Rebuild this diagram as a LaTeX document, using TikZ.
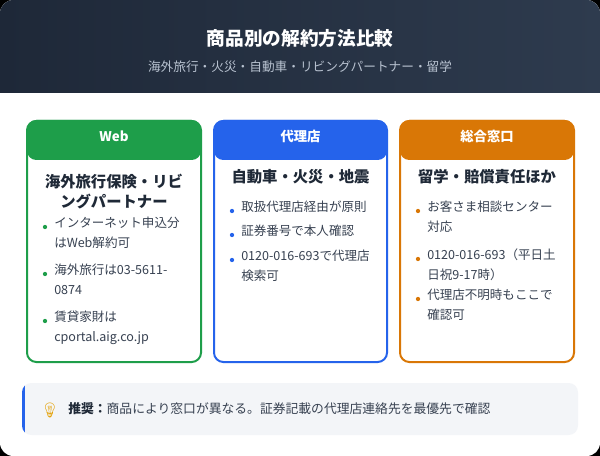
\documentclass[tikz,border=0pt]{standalone}
\usepackage{fontspec}
\setmainfont{Noto Sans CJK JP}
\newfontfamily\emo{Noto Emoji}
\usetikzlibrary{calc}
\definecolor{hdA}{HTML}{1E2838}
\definecolor{hdB}{HTML}{2E3B4E}
\definecolor{gr}{HTML}{1E9E4A}
\definecolor{bl}{HTML}{2563EB}
\definecolor{og}{HTML}{D97706}
\definecolor{tx}{HTML}{1F2937}
\definecolor{bt}{HTML}{374151}
\definecolor{sub}{HTML}{B8C2D0}
\definecolor{note}{HTML}{F3F5F8}
\tikzset{
 cardtitle/.style={font=\fontsize{11.5pt}{15pt}\selectfont\bfseries, text=tx, align=center},
 hdtext/.style={font=\fontsize{10pt}{12pt}\selectfont\bfseries, text=white},
 btxt/.style={font=\fontsize{9.4pt}{14.5pt}\selectfont, text=bt, anchor=north west, align=left, inner sep=0pt},
 dot/.style={circle, fill=#1, inner sep=0pt, minimum size=3.2pt},
}
\begin{document}
\begin{tikzpicture}[x=0.75pt,y=-0.75pt]
\useasboundingbox (0,0) rectangle (600,456);
\fill[black] (0,0) rectangle (600,456);
\fill[white, rounded corners=10pt] (0,0) rectangle (600,456);
\begin{scope}
\clip[rounded corners=10pt] (0,0) rectangle (600,200);
\shade[left color=hdA, right color=hdB] (0,0) rectangle (600,93);
\end{scope}
\node[text=white, font=\fontsize{14pt}{16pt}\selectfont\bfseries] (title) at (300,38) {商品別の解約方法比較};
\node[text=sub, font=\fontsize{9.5pt}{12pt}\selectfont] (subt) at (300,67) {海外旅行・火災・自動車・リビングパートナー・留学};
% cards
\foreach \xa/\xb/\c/\n in {27/201/gr/A, 214/387/bl/B, 400/574/og/C}{
  \fill[\c, rounded corners=7pt] (\xa,120) rectangle (\xb,160);
  \fill[\c] (\xa,145) rectangle (\xb,152);
  \draw[\c, line width=1.5pt, rounded corners=7pt] (\xa,121) rectangle (\xb,362);
  \node[hdtext] (h\n) at ({(\xa+\xb)/2},136) {};
}
\node[hdtext] (hA) at (114,136) {Web};
\node[hdtext] (hB) at (300.5,136) {代理店};
\node[hdtext] (hC) at (487,136) {総合窓口};
\node[cardtitle] (tA) at (114,192) {海外旅行保険・リビ\\ングパートナー};
\node[cardtitle] (tB) at (300.5,177) {自動車・火災・地震};
\node[cardtitle] (tC) at (487,177) {留学・賠償責任ほか};
% left bullets
\node[btxt] (a1) at (54,217) {インターネット申込分\\はWeb解約可};
\node[btxt] (a2) at (54,264) {海外旅行は03-5611-\\0874};
\node[btxt] (a3) at (54,311) {賃貸家財は\\cportal.aig.co.jp};
\foreach \y in {227,274,321} \node[dot=gr] at (45,\y) {};
% mid bullets
\node[btxt] (b1) at (241,201) {取扱代理店経由が原則};
\node[btxt] (b2) at (241,225) {証券番号で本人確認};
\node[btxt] (b3) at (241,250) {0120-016-693で代理店\\検索可};
\foreach \y in {211,235,260} \node[dot=bl] at (232,\y) {};
% right bullets
\node[btxt] (c1) at (427,201) {お客さま相談センター\\対応};
\node[btxt] (c2) at (427,249) {0120-016-693（平日土\\日祝9-17時）};
\node[btxt] (c3) at (427,289) {代理店不明時もここで\\確認可};
\foreach \y in {211,259,299} \node[dot=og] at (418,\y) {};
% note
\fill[note, rounded corners=7pt] (22,383) rectangle (578,435);
\begin{scope}
\clip[rounded corners=7pt] (22,383) rectangle (578,435);
\fill[bl] (22,383) rectangle (25,435);
\end{scope}
\node[text=og!70!yellow, font=\emo\fontsize{11pt}{12pt}\selectfont] (bulb) at (50,410) {💡};
\node[anchor=west, inner sep=0pt, text=bt, font=\fontsize{9.6pt}{12pt}\selectfont] (nt) at (68,409) {{\bfseries\color{tx}推奨：}商品により窓口が異なる。証券記載の代理店連絡先を最優先で確認};
\end{tikzpicture}
\end{document}
